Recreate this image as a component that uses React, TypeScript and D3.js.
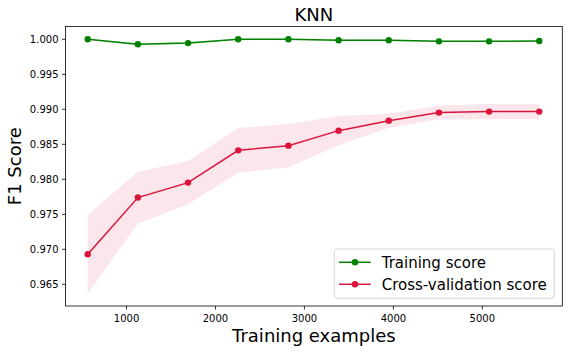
import React from 'react';
import * as d3 from 'd3';

// learning curve values
const trainSizes = [564, 1128, 1692, 2256, 2820, 3384, 3948, 4512, 5076, 5640];
const trainMean = [1.0, 0.99929, 0.99946, 1.0, 1.0, 0.99986, 0.99986, 0.99971, 0.99971, 0.99976];
const trainStd = [0.00003, 0.0002, 0.0002, 0.00005, 0.0001, 0.0001, 0.0001, 0.0001, 0.0001, 0.0001];
const cvMean = [0.96929, 0.97739, 0.97953, 0.98414, 0.98481, 0.98695, 0.98838, 0.98953, 0.98967, 0.98967];
const cvStd = [0.0056, 0.0037, 0.0031, 0.0032, 0.0031, 0.0021, 0.0010, 0.0010, 0.0011, 0.0011];
const xTicks = [1000, 2000, 3000, 4000, 5000];
const yTicks = [0.965, 0.97, 0.975, 0.98, 0.985, 0.99, 0.995, 1.0];

const W = 568, H = 352;
const margin = { top: 26.5, right: 5.7, bottom: 46, left: 65.5 };
const FONT = 'DejaVu Sans, sans-serif';

const series = [
  { name: 'Training score', mean: trainMean, std: trainStd, color: 'green' },
  { name: 'Cross-validation score', mean: cvMean, std: cvStd, color: '#DC143C' },
];

export default function App() {
  const x = d3.scaleLinear().domain([314, 5899]).range([margin.left, W - margin.right]);
  const y = d3.scaleLinear().domain([0.9619, 1.00183]).range([H - margin.bottom, margin.top]);

  const line = d3.line<number>().x((d, i) => x(trainSizes[i])).y(d => y(d));
  const band = (mean: number[], std: number[]) =>
    d3.area<number>()
      .x((d, i) => x(trainSizes[i]))
      .y0((d, i) => y(mean[i] - std[i]))
      .y1((d, i) => y(mean[i] + std[i]))(mean);

  const left = margin.left, right = W - margin.right;
  const top = margin.top, bottom = H - margin.bottom;
  const cx = (left + right) / 2, cy = (top + bottom) / 2;

  // legend box
  const lg = { x: 334.3, y: 249, w: 220, h: 49.3 };

  return (
    <svg width={W} height={H} style={{ position: 'absolute', left: 0, top: 0 }} fontFamily={FONT}>
      <rect width={W} height={H} fill="white" />
      {series.map(s => (
        <path key={s.name + 'band'} d={band(s.mean, s.std) || ''} fill={s.color} fillOpacity={0.1} />
      ))}
      {series.map(s => (
        <g key={s.name}>
          <path d={line(s.mean) || ''} fill="none" stroke={s.color} strokeWidth={1.5} />
          {s.mean.map((v, i) => (
            <circle key={i} cx={x(trainSizes[i])} cy={y(v)} r={3.2} fill={s.color} />
          ))}
        </g>
      ))}

      {/* spines */}
      <rect x={left} y={top} width={right - left} height={bottom - top} fill="none" stroke="black" strokeWidth={0.8} />

      {xTicks.map(t => (
        <g key={t} transform={`translate(${x(t)},${bottom})`}>
          <line y2={3.5} stroke="black" strokeWidth={0.8} />
          <text y={16.3} textAnchor="middle" fontSize={10} fill="black">{t}</text>
        </g>
      ))}
      {yTicks.map(t => (
        <g key={t} transform={`translate(${left},${y(t)})`}>
          <line x2={-3.5} stroke="black" strokeWidth={0.8} />
          <text x={-7} dy="0.35em" textAnchor="end" fontSize={10} fill="black">{d3.format('.3f')(t)}</text>
        </g>
      ))}

      <text x={cx} y={21} textAnchor="middle" fontSize={18} fill="black">KNN</text>
      <text x={cx} y={342.3} textAnchor="middle" fontSize={18} fill="black">Training examples</text>
      <text transform={`translate(21.3,${cy}) rotate(-90)`} textAnchor="middle" fontSize={18} fill="black">F1 Score</text>

      <g>
        <rect x={lg.x} y={lg.y} width={lg.w} height={lg.h} rx={3} fill="white" fillOpacity={0.8} stroke="#cccccc" strokeWidth={0.8} />
        {series.map((s, i) => {
          const ry = 262.3 + i * 22;
          return (
            <g key={s.name}>
              <line x1={339} x2={370.7} y1={ry} y2={ry} stroke={s.color} strokeWidth={1.5} />
              <circle cx={355} cy={ry} r={3.2} fill={s.color} />
              <text x={381.7} y={ry + 6} fontSize={15} fill="black">{s.name}</text>
            </g>
          );
        })}
      </g>
    </svg>
  );
}
